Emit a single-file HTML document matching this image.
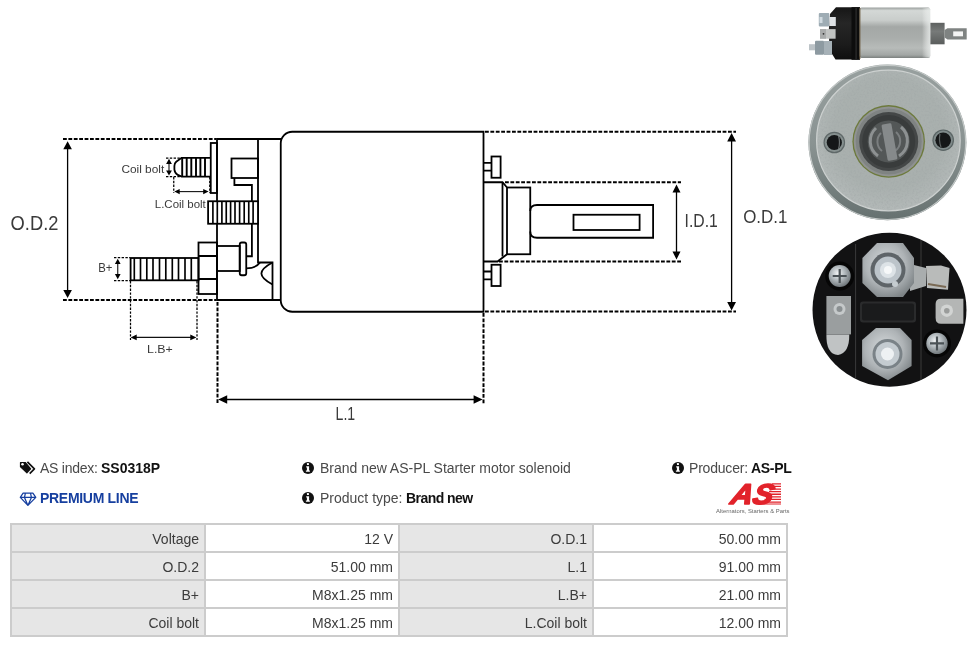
<!DOCTYPE html>
<html><head><meta charset="utf-8">
<style>
*{margin:0;padding:0;box-sizing:border-box}
html,body{width:976px;height:647px;overflow:hidden;background:#fff}
body{position:relative;font-family:"Liberation Sans",sans-serif;color:#444}
svg{position:absolute;left:0;top:0;display:block}
.t,table.spec,svg{will-change:transform}
.lbl{font-family:"Liberation Sans",sans-serif;fill:#3a3a3a}
.t{position:absolute;white-space:nowrap;font-size:14px;line-height:16px;color:#4a4a4a}
.t b{color:#111;font-weight:bold}
table.spec{position:absolute;left:10px;top:523px;border-collapse:collapse}
table.spec td{border:2px solid #cccccc;height:28px;width:194px;font-size:14px;line-height:16px;text-align:right;padding:2px 5px 0 0;color:#3c3c3c;vertical-align:middle}
table.spec td.k{background:#e6e6e6}
</style></head>
<body>
<!-- DRAWING -->
<svg width="800" height="440" viewBox="0 0 800 440">
<defs>
<marker id="ah" viewBox="0 0 10 10" refX="10" refY="5" markerWidth="6" markerHeight="6" orient="auto-start-reverse"><path d="M0,0 L10,5 L0,10 z" fill="#000"/></marker>
</defs>
<g fill="none" stroke="#000" stroke-width="1.8">
 <!-- housing -->
 <path d="M281,139 H217 V300 H281"/>
 <path d="M258,139 V262.5 H272.5 V300"/>
 <path d="M272.5,262.5 C266,266 261.4,269.5 261.4,273.5 C261.4,277.5 266,281 272.5,284.5"/>
 <path d="M246.25,268.3 C252,268.3 257,267 260,262.6"/>
 <rect x="210.75" y="143" width="6.25" height="50"/>
 <path d="M210.75,157.8 H181.6 L176.2,161.8 Q174.4,163.3 174.4,166 V169.5 Q174.6,173 177.8,174.9 L181.6,176.6 H210.75"/>
 <rect x="231.5" y="158.5" width="26.5" height="19.5"/>
 <path d="M234.4,178 V185 H251.9 V256.25 H246.25"/>
 <rect x="208.1" y="201.25" width="49.9" height="22.5" fill="#fff"/>
 <rect x="198.5" y="242.5" width="18.5" height="51.5"/>
 <path d="M198.5,256 H217 M198.5,279 H217"/>
 <rect x="130.6" y="258" width="67.9" height="22.3"/>
 <rect x="217" y="246" width="22.75" height="25"/>
 <rect x="239.75" y="242.5" width="6.5" height="32.75" rx="2"/>
 <!-- body -->
 <path d="M483.5,131.75 H292.25 A11.5,11.5 0 0 0 280.75,143.25 V300.25 A11.5,11.5 0 0 0 292.25,311.75 H483.5 Z"/>
 <!-- tabs -->
 <rect x="491.5" y="156.5" width="9.1" height="21.25"/>
 <path d="M483.5,162.9 H491.5 M483.5,170.6 H491.5"/>
 <rect x="491.5" y="264.75" width="9.1" height="21.25"/>
 <path d="M483.5,271.5 H491.5 M483.5,279.4 H491.5"/>
 <!-- hub -->
 <path d="M483.5,182.25 H502.5 L507,187.5"/>
 <path d="M502.5,182.25 V256.5"/>
 <rect x="507" y="187.5" width="23.25" height="66.75"/>
 <path d="M483.5,261.5 H497.5 L507,254.25"/>
 <path d="M530.25,211 Q530.25,205 537,205 H653.1 V237.75 H537 Q530.25,237.75 530.25,231.5"/>
 <rect x="573.5" y="214.75" width="66.1" height="15.25"/>
</g>
<!-- threads -->
<g stroke="#000" stroke-width="1.5">
 <path d="M182.2,158V176.5 M186.7,158V176.5 M191.3,158V176.5 M196,158V176.5 M200.4,158V176.5 M205,158V176.5" stroke-width="1.9"/>
 <path d="M212.9,201V224 M217.3,201V224 M221.9,201V224 M226.25,201V224 M230.6,201V224 M235,201V224 M239.6,201V224 M244.2,201V224 M248.75,201V224 M253.1,201V224" stroke-width="1.65"/>
 <path d="M134.3,258V280.3 M140.5,258V280.3 M146.8,258V280.3 M153,258V280.3 M159.5,258V280.3 M165.8,258V280.3 M172.3,258V280.3 M178.5,258V280.3 M185,258V280.3 M191.3,258V280.3" stroke-width="1.65"/>
</g>
<!-- thick dashed dimension lines -->
<g stroke="#000" stroke-width="2" stroke-dasharray="3.8 1.6" fill="none">
 <path d="M63,139 H216"/>
 <path d="M63,300 H216"/>
 <path d="M485,131.75 H736"/>
 <path d="M485,311.5 H736"/>
 <path d="M505,182.25 H681"/>
 <path d="M499,261.5 H681"/>
 <path d="M217.5,302 V404"/>
 <path d="M483.5,313 V404"/>
</g>
<!-- thin dashed -->
<g stroke="#000" stroke-width="1.25" stroke-dasharray="2.4 1.4" fill="none">
 <path d="M166,158 H180 M166,176.5 H180"/>
 <path d="M173.75,177 V193 M209.75,177 V193"/>
 <path d="M114,257.5 H130 M114,280.6 H130"/>
 <path d="M130.5,281 V340 M197,281 V340"/>
</g>
<!-- arrows -->
<g stroke="#000" stroke-width="1.3" fill="none">
 <path d="M67.6,148 V290"/>
 <path d="M731.6,140 V303"/>
 <path d="M676.5,191 V253"/>
 <path d="M225,399.5 H476"/>
</g>
<g stroke="#111" stroke-width="1.1" fill="none">
 <path d="M169,163 V171.5"/>
 <path d="M179,191.6 H204.5"/>
 <path d="M117.75,263 V275"/>
 <path d="M136,337.4 H191"/>
</g>
<g fill="#000">
 <path d="M67.6,141.2 L63.3,149.2 L71.9,149.2Z M67.6,298 L63.3,290 L71.9,290Z"/>
 <path d="M731.6,133 L727.2,141.5 L736,141.5Z M731.6,310.5 L727.2,302 L736,302Z"/>
 <path d="M676.5,184.5 L672.5,192.5 L680.5,192.5Z M676.5,259.5 L672.5,251.5 L680.5,251.5Z"/>
 <path d="M218.2,399.5 L227.2,395.3 L227.2,403.7Z M482.6,399.5 L473.6,395.3 L473.6,403.7Z"/>
 <path d="M169,158.8 L166.1,164 L171.9,164Z M169,175.6 L166.1,170.4 L171.9,170.4Z"/>
 <path d="M174.3,191.6 L179.7,189 L179.7,194.2Z M208.6,191.6 L203.2,189 L203.2,194.2Z"/>
 <path d="M117.75,258.8 L114.9,264 L120.6,264Z M117.75,279.3 L114.9,274 L120.6,274Z"/>
 <path d="M130.6,337.4 L136.7,334.6 L136.7,340.2Z M196.4,337.4 L190.3,334.6 L190.3,340.2Z"/>
</g>
<!-- labels -->
<g class="lbl">
 <text x="10.6" y="230.1" font-size="19.5" textLength="47.8" lengthAdjust="spacingAndGlyphs">O.D.2</text>
 <text x="743.2" y="223.1" font-size="19.2" textLength="44.2" lengthAdjust="spacingAndGlyphs">O.D.1</text>
 <text x="684.6" y="227.4" font-size="18.3" textLength="33.2" lengthAdjust="spacingAndGlyphs">I.D.1</text>
 <text x="335.6" y="420.2" font-size="18.8" textLength="19.6" lengthAdjust="spacingAndGlyphs">L.1</text>
 <text x="121.4" y="172.6" font-size="11.4" textLength="42.8" lengthAdjust="spacingAndGlyphs">Coil bolt</text>
 <text x="154.8" y="208" font-size="11.2" textLength="51" lengthAdjust="spacingAndGlyphs">L.Coil bolt</text>
 <text x="98.3" y="272.4" font-size="13.3" textLength="14.2" lengthAdjust="spacingAndGlyphs">B+</text>
 <text x="147" y="353" font-size="11.6" textLength="25.8" lengthAdjust="spacingAndGlyphs">L.B+</text>
</g>
</svg>

<!-- PHOTOS -->
<svg width="976" height="400" viewBox="0 0 976 400">
<defs>
 <linearGradient id="can" x1="0" y1="0" x2="0" y2="1">
  <stop offset="0" stop-color="#9a9f9d"/>
  <stop offset="0.06" stop-color="#d4d8d6"/>
  <stop offset="0.25" stop-color="#c9cdcb"/>
  <stop offset="0.38" stop-color="#a4a8a6"/>
  <stop offset="0.6" stop-color="#a9adab"/>
  <stop offset="0.8" stop-color="#b7bbb9"/>
  <stop offset="0.94" stop-color="#a2a6a4"/>
  <stop offset="1" stop-color="#7b807e"/>
 </linearGradient>
 <linearGradient id="canend" x1="0" y1="0" x2="1" y2="0">
  <stop offset="0" stop-color="#fff" stop-opacity="0"/>
  <stop offset="1" stop-color="#e8ecea" stop-opacity="0.8"/>
 </linearGradient>
 <linearGradient id="cap" x1="0" y1="0" x2="0" y2="1">
  <stop offset="0" stop-color="#161616"/>
  <stop offset="0.3" stop-color="#262626"/>
  <stop offset="0.7" stop-color="#1c1c1c"/>
  <stop offset="1" stop-color="#0e0e0e"/>
 </linearGradient>
 <linearGradient id="stub" x1="0" y1="0" x2="0" y2="1">
  <stop offset="0" stop-color="#5e6160"/>
  <stop offset="0.4" stop-color="#777a79"/>
  <stop offset="1" stop-color="#5a5d5c"/>
 </linearGradient>
 <radialGradient id="face" cx="0.5" cy="0.45" r="0.55">
  <stop offset="0" stop-color="#aab0ae"/>
  <stop offset="0.7" stop-color="#a9b0ae"/>
  <stop offset="1" stop-color="#b3b9b8"/>
 </radialGradient>
 <linearGradient id="rim" x1="0" y1="0" x2="0" y2="1">
  <stop offset="0" stop-color="#98a09f"/>
  <stop offset="0.5" stop-color="#8a9392"/>
  <stop offset="1" stop-color="#667170"/>
 </linearGradient>
 <filter id="noise" x="0" y="0" width="100%" height="100%">
  <feTurbulence type="fractalNoise" baseFrequency="0.55" numOctaves="2" seed="3" result="n"/>
  <feColorMatrix in="n" type="matrix" values="0 0 0 0 0.35  0 0 0 0 0.38  0 0 0 0 0.38  0 0 0 -2.2 1.25" result="c"/>
  <feComposite in="c" in2="SourceGraphic" operator="in"/>
 </filter>
 <radialGradient id="bolt" cx="0.42" cy="0.38" r="0.65">
  <stop offset="0" stop-color="#f4f6f7"/>
  <stop offset="0.45" stop-color="#b5bcc0"/>
  <stop offset="1" stop-color="#6a7175"/>
 </radialGradient>
 <radialGradient id="nut" cx="0.45" cy="0.4" r="0.65">
  <stop offset="0" stop-color="#d8dcde"/>
  <stop offset="0.6" stop-color="#aeb3b6"/>
  <stop offset="1" stop-color="#7d8386"/>
 </radialGradient>
</defs>
<!-- side view -->
<path d="M860,7.3 H836 L830,14 L828.8,30 L829.5,50 L835.5,59.6 H860 Z" fill="url(#cap)"/>
<rect x="851.5" y="7.2" width="8.3" height="52.6" fill="#0d0d0d"/>
<rect x="855.5" y="8" width="1.2" height="51" fill="#2e2e2e"/>
<rect x="859.6" y="7.6" width="70.6" height="50.4" rx="2" fill="url(#can)"/>
<rect x="922" y="8" width="8" height="49.6" fill="url(#canend)"/>
<rect x="859.4" y="8" width="1" height="51" fill="#6b5a40"/>
<rect x="930.4" y="22.8" width="14.2" height="21.5" fill="url(#stub)"/>
<path d="M944.6,30 L947.5,28.3 H966.7 V39.4 H947.5 L944.6,37.5Z" fill="#7f8382"/>
<rect x="953.2" y="31.4" width="9.8" height="4.9" fill="#f4f4f4"/>
<rect x="818.8" y="13" width="10.5" height="13.6" rx="1" fill="#9eacb4"/>
<rect x="819.5" y="17" width="3" height="6" fill="#d0dae0"/>
<rect x="829.3" y="17" width="6.5" height="9" fill="#dfe3e5"/>
<rect x="820" y="29.1" width="15.6" height="9.6" fill="#c2c4c3"/>
<rect x="820" y="29.1" width="6" height="9.6" fill="#a9abab"/>
<circle cx="823.5" cy="33.8" r="0.9" fill="#333"/>
<rect x="809" y="44.2" width="6.5" height="6.1" fill="#bcc3c7"/>
<rect x="815" y="40.7" width="9" height="14.1" rx="1" fill="#8d9aa1"/>
<rect x="824" y="41" width="8" height="14" fill="#a6b1b7"/>
<!-- front view -->
<ellipse cx="887.4" cy="142.4" rx="79" ry="77.8" fill="url(#rim)"/>
<ellipse cx="887.4" cy="142.4" rx="78.3" ry="77.1" fill="none" stroke="#c3c8c7" stroke-width="1.2"/>
<ellipse cx="888.4" cy="140.5" rx="71.8" ry="70.3" fill="url(#face)"/>
<ellipse cx="888.4" cy="140.5" rx="71.8" ry="70.3" fill="#000" filter="url(#noise)" opacity="0.5"/>
<ellipse cx="888.4" cy="140.5" rx="71.8" ry="70.3" fill="none" stroke="#cdd1d0" stroke-width="1.2"/>
<circle cx="888.7" cy="141.4" r="36.3" fill="#6d7a3c"/>
<circle cx="888.7" cy="141.4" r="35" fill="#8f9291"/>
<circle cx="888.7" cy="141.4" r="33" fill="#7f8382"/>
<circle cx="888.7" cy="141.4" r="29.5" fill="#444747"/>
<circle cx="888.7" cy="141.4" r="26.5" fill="#393c3c"/>
<circle cx="888.7" cy="141.4" r="21" fill="#535757"/>
<path d="M876,128 A18,18 0 0 0 878,156 M901,127 A18,18 0 0 1 899,156" fill="none" stroke="#8d9192" stroke-width="3"/>
<path d="M881,133 A12,12 0 0 0 882,151 M896,132 A12,12 0 0 1 895,151" fill="none" stroke="#7b7f80" stroke-width="2"/>
<rect x="884.5" y="123.5" width="10" height="37" rx="1.5" fill="#868a8b" transform="rotate(-10 889.5 142)"/>
<circle cx="834.3" cy="142.5" r="10.8" fill="#5f6868"/>
<circle cx="834.3" cy="142.5" r="9.6" fill="#86908f"/>
<circle cx="834.3" cy="142.5" r="7.6" fill="#151718"/>
<path d="M838.5,136 Q840.5,142 838.5,149" stroke="#6a7070" stroke-width="1.2" fill="none"/>
<circle cx="943.2" cy="140.2" r="10.8" fill="#5a6464"/>
<circle cx="943.2" cy="140.2" r="9.6" fill="#7f8a8a"/>
<circle cx="943.2" cy="140.2" r="7.8" fill="#151718"/>
<path d="M940,134 Q938.5,140 941,147" stroke="#5a6060" stroke-width="1.2" fill="none"/>
<!-- rear view -->
<circle cx="889.5" cy="309.8" r="77" fill="#121213"/>
<path d="M855.6,244 V378 M921,240 V380" stroke="#3a3a3b" stroke-width="1"/>
<rect x="860" y="301.5" width="56" height="21" rx="3" fill="#2a2b2c"/>
<rect x="862" y="303.5" width="52" height="17" rx="2" fill="#1a1b1c"/>
<circle cx="839.7" cy="276" r="14.5" fill="#060606"/>
<circle cx="839.7" cy="276" r="11" fill="url(#bolt)"/>
<path d="M839.7,269 V283 M832.7,276 H846.7" stroke="#4b5256" stroke-width="2.2"/>
<circle cx="937" cy="343.4" r="14" fill="#060606"/>
<circle cx="937" cy="343.4" r="10.7" fill="url(#bolt)"/>
<path d="M937,336.5 V350.5 M930,343.4 H944" stroke="#4b5256" stroke-width="2.2"/>
<path d="M910,264 L926,268 V286 L910,291Z" fill="#a9adae"/>
<path d="M926,266 L941,265.5 L949.5,268 L948,289.8 L927,288Z" fill="#b9bbba"/>
<path d="M928,284 L946,287" stroke="#7a6a55" stroke-width="2"/>
<path d="M877,243 H903 L914,258 V283 L903,297 H877 L862.4,283 V258Z" fill="url(#nut)"/>
<circle cx="888" cy="270" r="17.5" fill="#5e6468"/>
<circle cx="888" cy="270" r="13.5" fill="#bcc4ca"/>
<circle cx="888" cy="270" r="8" fill="#dde3e7"/>
<circle cx="888" cy="270" r="4" fill="#f6f8f9"/>
<circle cx="895" cy="284" r="3" fill="#c5ccd0"/>
<rect x="826.4" y="296" width="24.6" height="38.4" fill="#9a9e9f"/>
<circle cx="839.5" cy="309" r="6" fill="#c5c9ca"/>
<circle cx="839.5" cy="309" r="3" fill="#8a8f91"/>
<path d="M826.4,334.4 Q826,354 838,355 Q849.5,353 849.3,334.4Z" fill="#c0c3c4"/>
<path d="M935.6,304 Q935.6,298.8 941,298.8 H963.4 V323.8 H941 Q935.6,323.8 935.6,318Z" fill="#b4b6b5"/>
<circle cx="946.8" cy="310.7" r="6.2" fill="#d2d4d3"/>
<circle cx="946.8" cy="310.7" r="2.8" fill="#9a9c9b"/>
<path d="M876,328 H900 L911.6,340 V366 L888,380.3 L862.1,366 V340Z" fill="url(#nut)"/>
<circle cx="887.5" cy="354" r="15" fill="#7a8287"/>
<circle cx="887.5" cy="354" r="12" fill="#c4cbd0"/>
<circle cx="887.5" cy="354" r="6.5" fill="#eef1f3"/>
</svg>

<!-- INFO -->
<svg width="25" height="22" viewBox="0 0 25 22" style="left:15px;top:456px"><path d="M4.9,6.5 Q4.9,5.95 5.5,5.95 H10.7 L16.1,12.6 Q16.4,13 16.05,13.35 L12.3,17.3 Q11.9,17.7 11.5,17.3 L4.9,11.1Z" fill="#111"/><circle cx="7.5" cy="8.3" r="1.25" fill="#fff"/><path d="M12.4,5.95 L19.4,12.93 L14.7,17.6" fill="none" stroke="#111" stroke-width="1.7" stroke-linejoin="round"/></svg>
<div class="t" style="left:40px;top:460px;letter-spacing:-0.25px">AS index:</div>
<div class="t" style="left:100.5px;top:460px"><b>SS0318P</b></div>
<div class="t" style="left:39.5px;top:490px;color:#163f9f;font-weight:bold;letter-spacing:-0.3px">PREMIUM LINE</div>
<svg width="24" height="20" viewBox="0 0 24 20" style="left:16px;top:488.6px"><path d="M7.1,4.2 H16.9 L19.8,8.4 L11.9,16.4 L4.3,8.4 Z M4.3,8.4 H19.8 M9.4,4.2 L8.5,8.4 L11.9,16.4 L15.4,8.4 L14.5,4.2" fill="none" stroke="#163f9f" stroke-width="1.25" stroke-linejoin="round"/></svg>

<svg width="12" height="12" viewBox="0 0 12 12" style="left:302px;top:462px"><circle cx="6" cy="6" r="6" fill="#111"/><rect x="4.95" y="1.05" width="2" height="2" rx="0.5" fill="#fff"/><path d="M4.2,4.2 H7.1 V8.5 H7.9 V9.8 H3.9 V8.5 H4.9 V5.4 H4.2Z" fill="#fff"/></svg>
<div class="t" style="left:320px;top:460px;letter-spacing:-0.02px">Brand new AS-PL Starter motor solenoid</div>
<svg width="12" height="12" viewBox="0 0 12 12" style="left:302px;top:492px"><circle cx="6" cy="6" r="6" fill="#111"/><rect x="4.95" y="1.05" width="2" height="2" rx="0.5" fill="#fff"/><path d="M4.2,4.2 H7.1 V8.5 H7.9 V9.8 H3.9 V8.5 H4.9 V5.4 H4.2Z" fill="#fff"/></svg>
<div class="t" style="left:320px;top:490px">Product type:</div>
<div class="t" style="left:406px;top:490px;letter-spacing:-0.55px"><b>Brand new</b></div>

<svg width="12" height="12" viewBox="0 0 12 12" style="left:671.5px;top:461.5px"><circle cx="6" cy="6" r="6" fill="#111"/><rect x="4.95" y="1.05" width="2" height="2" rx="0.5" fill="#fff"/><path d="M4.2,4.2 H7.1 V8.5 H7.9 V9.8 H3.9 V8.5 H4.9 V5.4 H4.2Z" fill="#fff"/></svg>
<div class="t" style="left:689px;top:460px;letter-spacing:-0.2px">Producer:</div>
<div class="t" style="left:750.5px;top:460px;letter-spacing:-0.3px"><b>AS-PL</b></div>

<!-- AS logo -->
<svg width="80" height="40" viewBox="0 0 80 40" style="left:712px;top:478px">
 <g fill="#e2232b">
  <path d="M60,5.2 H69 V6.5 H60Z M59,7.8 H69 V9.1 H59Z M58,10.4 H69 V11.7 H58Z M57,13 H69 V14.3 H57Z M56,15.6 H69 V16.9 H56Z M54.5,18.2 H69 V19.5 H54.5Z M52.5,20.8 H69 V22.1 H52.5Z M49,23.4 H69 V24.7 H49Z M46,25.6 H69 V26.6 H46Z"/>
  <text x="17.5" y="25.8" font-size="28.5" font-weight="bold" font-style="italic" font-family="Liberation Sans, sans-serif" textLength="42" lengthAdjust="spacingAndGlyphs" transform="skewX(-14) translate(6.4 0)" stroke="#e2232b" stroke-width="1.6" stroke-linejoin="round">AS</text>
 </g>
 <text x="4.1" y="34.8" font-size="6" fill="#666" font-family="Liberation Sans, sans-serif" textLength="73.4" lengthAdjust="spacingAndGlyphs">Alternators, Starters &amp; Parts</text>
</svg>

<!-- TABLE -->
<table class="spec">
<tr><td class="k">Voltage</td><td>12 V</td><td class="k">O.D.1</td><td>50.00 mm</td></tr>
<tr><td class="k">O.D.2</td><td>51.00 mm</td><td class="k">L.1</td><td>91.00 mm</td></tr>
<tr><td class="k">B+</td><td>M8x1.25 mm</td><td class="k">L.B+</td><td>21.00 mm</td></tr>
<tr><td class="k">Coil bolt</td><td>M8x1.25 mm</td><td class="k">L.Coil bolt</td><td>12.00 mm</td></tr>
</table>
</body></html>
